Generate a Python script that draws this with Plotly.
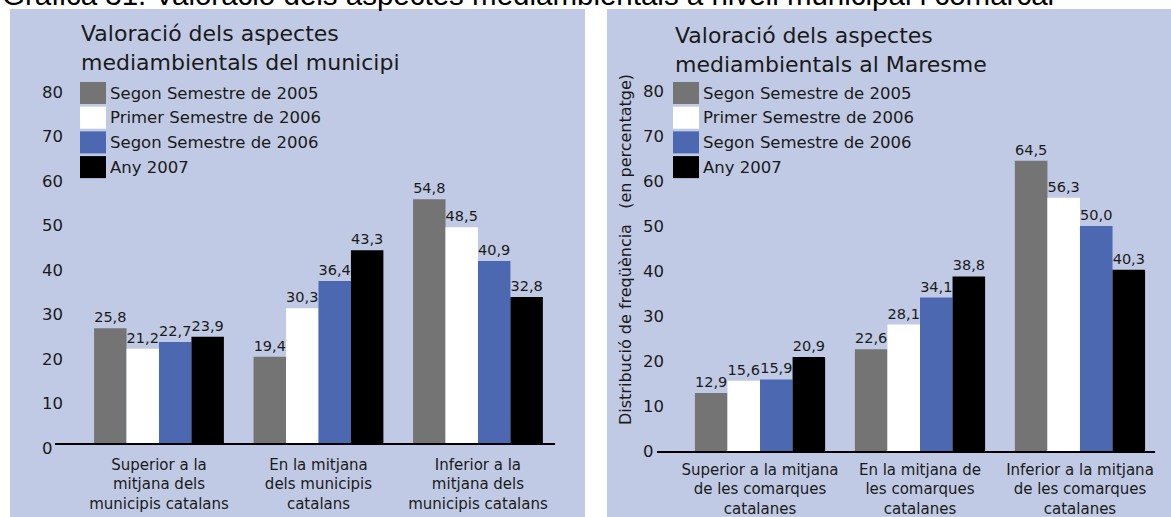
import plotly.graph_objects as go

W, H = 1171, 517

# ---------------- data ----------------
series_names = ["Segon Semestre de 2005", "Primer Semestre de 2006",
                "Segon Semestre de 2006", "Any 2007"]
series_colors = ["#747474", "#ffffff", "#4b68b0", "#000000"]

cats_municipi = ["Superior a la<br>mitjana dels<br>municipis catalans",
                 "En la mitjana<br>dels municipis<br>catalans",
                 "Inferior a la<br>mitjana dels<br>municipis catalans"]
vals_municipi = [
    [25.8, 19.4, 54.8],
    [21.2, 30.3, 48.5],
    [22.7, 36.4, 40.9],
    [23.9, 43.3, 32.8],
]

cats_maresme = ["Superior a la mitjana<br>de les comarques<br>catalanes",
                "En la mitjana de<br>les comarques<br>catalanes",
                "Inferior a la mitjana<br>de les comarques<br>catalanes"]
vals_maresme = [
    [12.9, 22.6, 64.5],
    [15.6, 28.1, 56.3],
    [15.9, 34.1, 50.0],
    [20.9, 38.8, 40.3],
]

y_ticks = [0, 10, 20, 30, 40, 50, 60, 70, 80]

main_title = "Gràfica 31. Valoració dels aspectes mediambientals a nivell municipal i comarcal"
title_left = "Valoració dels aspectes<br>mediambientals del municipi"
title_right = "Valoració dels aspectes<br>mediambientals al Maresme"
ytitle_right = "Distribució de freqüència\u00a0\u00a0\u00a0(en percentatge)"

# ---------------- helpers ----------------
def px(x):
    return x / W

def py(y):
    return 1 - y / H

# tick labels left-aligned (pad short labels with a figure space)
y_ticktext = [str(v) + "\u2007" * (2 - len(str(v))) for v in y_ticks]

BG = "#c1cae4"
FONT = "DejaVu Sans"
TXT = "#1a1a1a"

fig = go.Figure()

for i, name in enumerate(series_names):
    fig.add_trace(go.Bar(
        x=cats_municipi, y=vals_municipi[i], name=name,
        marker=dict(color=series_colors[i], line=dict(width=0)),
        text=vals_municipi[i], texttemplate="%{y:.1f}", textposition="outside",
        textfont=dict(family=FONT, size=14.5, color=TXT),
        constraintext="none", cliponaxis=False,
        xaxis="x", yaxis="y", showlegend=False))
for i, name in enumerate(series_names):
    fig.add_trace(go.Bar(
        x=cats_maresme, y=vals_maresme[i], name=name,
        marker=dict(color=series_colors[i], line=dict(width=0)),
        text=vals_maresme[i], texttemplate="%{y:.1f}", textposition="outside",
        textfont=dict(family=FONT, size=14.5, color=TXT),
        constraintext="none", cliponaxis=False,
        xaxis="x2", yaxis="y2", showlegend=False))

# axis geometry (pixels)
L_y0, L_scale = 443, 4.45
R_y0, R_scale = 451, 4.50
YMAX = 85

xa_common = dict(type="category", showline=True, linecolor="#000000", linewidth=1.5,
                 showgrid=False, zeroline=False, ticks="",
                 automargin=False,
                 tickfont=dict(family=FONT, size=15, color=TXT), fixedrange=True)
ya_common = dict(showline=False, showgrid=False, zeroline=False, ticks="",
                 automargin=False,
                 tickvals=y_ticks, ticktext=y_ticktext,
                 tickfont=dict(family=FONT, size=16.5, color=TXT),
                 range=[0, YMAX], anchor="free", fixedrange=True)

fig.update_layout(
    template="none",
    width=W, height=H, autosize=False,
    margin=dict(l=0, r=0, t=0, b=0, pad=0),
    paper_bgcolor="#ffffff", plot_bgcolor="rgba(0,0,0,0)",
    separators=", ",
    barmode="group", bargap=0.186, bargroupgap=0,
    showlegend=False,
    xaxis=dict(xa_common, domain=[px(55), px(555)], range=[-0.652, 2.483],
               anchor="y", ticklabelstandoff=7),
    yaxis=dict(ya_common, domain=[py(L_y0), py(L_y0 - YMAX * L_scale)],
               position=px(63), ticklabelshift=5),
    xaxis2=dict(xa_common, domain=[px(657), px(1155)], range=[-0.644, 2.469],
                anchor="y2", ticklabelstandoff=4),
    yaxis2=dict(ya_common, domain=[py(R_y0), py(R_y0 - YMAX * R_scale)],
                position=px(664)),
)

shapes = [
    dict(type="rect", xref="paper", yref="paper", x0=px(10), x1=px(585),
         y0=0, y1=py(9), fillcolor=BG, line=dict(width=0), layer="below"),
    dict(type="rect", xref="paper", yref="paper", x0=px(607), x1=1,
         y0=0, y1=py(9), fillcolor=BG, line=dict(width=0), layer="below"),
]
annotations = [
    dict(text=main_title, xref="paper", yref="paper", x=px(0), y=py(13),
         xanchor="left", yanchor="bottom", showarrow=False,
         font=dict(family="Liberation Sans Narrow, Liberation Sans", size=29.5, color="#000000")),
    dict(text=title_left, xref="paper", yref="paper", x=px(79), y=py(19),
         xanchor="left", yanchor="top", align="left", showarrow=False,
         font=dict(family=FONT, size=22, color=TXT)),
    dict(text=title_right, xref="paper", yref="paper", x=px(673), y=py(21),
         xanchor="left", yanchor="top", align="left", showarrow=False,
         font=dict(family=FONT, size=22, color=TXT)),
    dict(text=ytitle_right, xref="paper", yref="paper", x=px(625), y=py(250),
         xanchor="center", yanchor="middle", textangle=-90, showarrow=False,
         font=dict(family=FONT, size=16, color=TXT)),
]

# manual legends (large swatches)
for lx in (80, 673):
    for i, name in enumerate(series_names):
        top = 82 + i * 24.7
        shapes.append(dict(type="rect", xref="paper", yref="paper",
                           x0=px(lx), x1=px(lx + 26), y0=py(top + 22), y1=py(top),
                           fillcolor=series_colors[i], line=dict(width=0)))
        annotations.append(dict(text=name, xref="paper", yref="paper",
                                x=px(lx + 28), y=py(top + 11), xanchor="left",
                                yanchor="middle", showarrow=False,
                                font=dict(family=FONT, size=16.5, color=TXT)))

fig.update_layout(shapes=shapes, annotations=annotations)
fig.write_html("out.html", post_script="document.body.style.margin='0';",
               config={"displayModeBar": False})
